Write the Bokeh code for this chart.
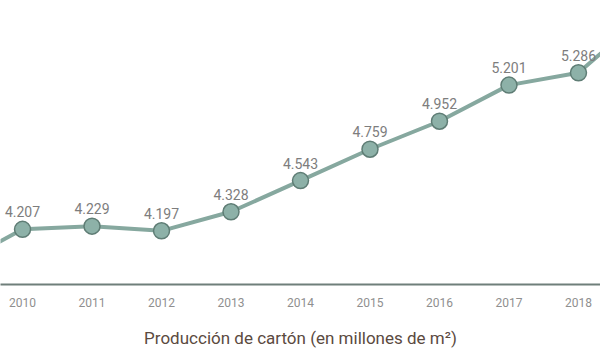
from bokeh.plotting import figure
from bokeh.models import ColumnDataSource, Range1d, FixedTicker, LabelSet
from bokeh.core.properties import value
from bokeh.embed import file_html
from bokeh.resources import INLINE

years = [2009, 2010, 2011, 2012, 2013, 2014, 2015, 2016, 2017, 2018, 2019]
values = [3.95, 4.207, 4.229, 4.197, 4.328, 4.543, 4.759, 4.952, 5.201, 5.286, 5.70]
labels = ["", "4.207", "4.229", "4.197", "4.328", "4.543", "4.759", "4.952", "5.201", "5.286", ""]
tick_years = [2010, 2011, 2012, 2013, 2014, 2015, 2016, 2017, 2018]
axis_title = "Producción de cartón (en millones de m²)"

src = ColumnDataSource(dict(x=years, y=values, label=labels))

p = figure(width=600, height=354, output_backend="svg", toolbar_location=None,
           x_range=Range1d(2009.683, 2018.317), y_range=Range1d(3.827, 5.784),
           min_border=0, min_border_left=0, min_border_right=0, min_border_top=0,
           min_border_bottom=70)
p.outline_line_color = None
p.background_fill_color = "white"
p.border_fill_color = "white"
p.grid.visible = False
p.yaxis.visible = False

p.line("x", "y", source=src, line_color="#86a89f", line_width=4)
p.scatter("x", "y", source=src, size=16, fill_color="#8db1a8",
          line_color="#5f7d75", line_width=1.5)

lbl = LabelSet(x="x", y="y", text="label", source=src, x_offset=0, y_offset=12,
               text_align="center", text_baseline="bottom",
               text_font=value("Roboto"), text_font_size="14px", text_color="#7d7d7d")
p.add_layout(lbl)

ax = p.xaxis[0]
ax.ticker = FixedTicker(ticks=tick_years)
ax.axis_line_color = "#6f7f7a"
ax.axis_line_width = 2
ax.major_tick_line_color = None
ax.minor_tick_line_color = None
ax.major_label_text_font = "Roboto"
ax.major_label_text_font_size = "12px"
ax.major_label_text_color = "#8f8f8f"
ax.major_label_standoff = 7
ax.axis_label = axis_title
ax.axis_label_text_font = "Roboto"
ax.axis_label_text_font_style = "normal"
ax.axis_label_text_font_size = "17px"
ax.axis_label_text_color = "#5b4a3f"
ax.axis_label_standoff = 18

open("out.html", "w").write(file_html(p, INLINE))
